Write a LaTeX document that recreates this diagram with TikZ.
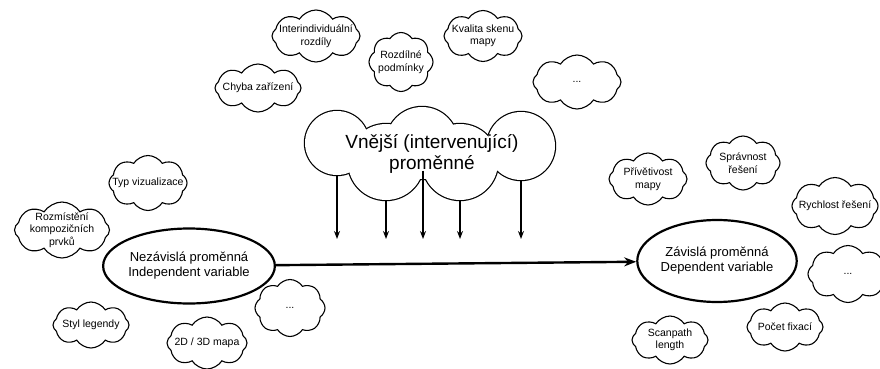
\documentclass[tikz,border=0pt]{standalone}
\usepackage{fontspec}
\setmainfont{Liberation Sans}
\usetikzlibrary{shapes.geometric, shapes.symbols, arrows.meta}

\begin{document}
\begin{tikzpicture}[x=1pt, y=-1pt, >=Stealth,
    puff/.style={cloud, draw, line width=1.1pt, cloud puffs=8, cloud puff arc=115,
      cloud ignores aspect, inner sep=0pt, outer sep=0pt},
    pufftext/.style={font=\fontsize{10.5}{12.5}\selectfont, align=center, inner sep=0pt},
    varbox/.style={ellipse, draw, line width=2.2pt, align=center, inner sep=0pt,
      font=\fontsize{13}{15}\selectfont, minimum width=134pt},
    lobe/.style={circle, draw, line width=2.4pt, inner sep=0pt, outer sep=0pt},
    drop/.style={->, line width=1.2pt, >={Stealth[length=8pt, width=6pt]}}]
    \useasboundingbox (0,0) rectangle (880,369);

    %% the two variables
    \node[varbox, minimum height=75pt] (indep) at (189,266) {Nezávislá proměnná\\Independent variable};
    \node[varbox, minimum height=82pt] (dep) at (717,261) {Závislá proměnná\\Dependent variable};
    \draw[->, line width=2.4pt, >={Stealth[length=12pt, width=9pt]}] (indep) -- (dep);

    %% big cloud: circles, inner arcs covered in white
    \node[lobe, minimum size=64pt] (lobeA) at (337,143) {};
    \node[lobe, minimum size=72pt] (lobeB) at (422,143) {};
    \node[lobe, minimum size=68pt] (lobeC) at (521,146) {};
    \node[lobe, minimum size=76pt] (lobeD) at (386,162) {};
    \node[lobe, minimum size=76pt] (lobeE) at (460,162) {};
    \fill[white] (lobeA.center) circle [radius=32pt];
    \fill[white] (lobeB.center) circle [radius=36pt];
    \fill[white] (lobeC.center) circle [radius=34pt];
    \fill[white] (lobeD.center) circle [radius=38pt];
    \fill[white] (lobeE.center) circle [radius=38pt];
    \node[align=center, font=\fontsize{19}{21}\selectfont, inner sep=0pt] (extvar) at (432,154)
      {Vnější (intervenující)\\proměnné};

    \coordinate (cusp) at (423,170.7);
    \coordinate (arrowstop) at (0,239);
    \draw[drop] (lobeA.south) -- (lobeA.south |- arrowstop);
    \draw[drop] (lobeD.south) -- (lobeD.south |- arrowstop);
    \draw[drop] (cusp) -- (cusp |- arrowstop);
    \draw[drop] (lobeE.south) -- (lobeE.south |- arrowstop);
    \draw[drop] (lobeC.south) -- (lobeC.south |- arrowstop);

    %% independent side
    \node[puff, minimum width=78pt, minimum height=55pt, label={[pufftext]center:Typ vizualizace}] (vistype) at (148,183) {};
    \node[puff, minimum width=95pt, minimum height=56pt, label={[pufftext]center:{Rozmístění\\kompozičních\\prvků}}] (layout) at (62,230) {};
    \node[puff, minimum width=76pt, minimum height=46pt, label={[pufftext]center:Styl legendy}] (legend) at (91,325) {};
    \node[puff, minimum width=80pt, minimum height=52pt, label={[pufftext]center:2D / 3D mapa}] (dims) at (207,343) {};
    \node[puff, minimum width=70pt, minimum height=57pt, label={[pufftext]center:...}] (moreleft) at (290,308) {};

    %% external variables
    \node[puff, minimum width=86pt, minimum height=48pt, label={[pufftext]center:Chyba zařízení}] (device) at (258,88) {};
    \node[puff, minimum width=88pt, minimum height=52pt, label={[pufftext]center:{Interindividuální\\rozdíly}}] (indiv) at (316,36) {};
    \node[puff, minimum width=64pt, minimum height=59pt, label={[pufftext]center:{Rozdílné\\podmínky}}] (cond) at (401,62) {};
    \node[puff, minimum width=78pt, minimum height=51pt, label={[pufftext]center:{Kvalita skenu\\mapy}}] (quality) at (483,36) {};
    \node[puff, minimum width=88pt, minimum height=54pt, label={[pufftext]center:...}] (moretop) at (577,82) {};

    %% dependent side
    \node[puff, minimum width=78pt, minimum height=52pt, label={[pufftext]center:{Přívětivost\\mapy}}] (friendly) at (648,179) {};
    \node[puff, minimum width=74pt, minimum height=54pt, label={[pufftext]center:{Správnost\\řešení}}] (correct) at (743,163) {};
    \node[puff, minimum width=86pt, minimum height=57pt, label={[pufftext]center:Rychlost řešení}] (speed) at (835,206) {};
    \node[puff, minimum width=80pt, minimum height=57pt, label={[pufftext]center:...}] (moreright) at (848,274) {};
    \node[puff, minimum width=76pt, minimum height=48pt, label={[pufftext]center:Počet fixací}] (fixations) at (785,327) {};
    \node[puff, minimum width=76pt, minimum height=48pt, label={[pufftext]center:{Scanpath\\length}}] (scanpath) at (670,340) {};
\end{tikzpicture}
\end{document}
